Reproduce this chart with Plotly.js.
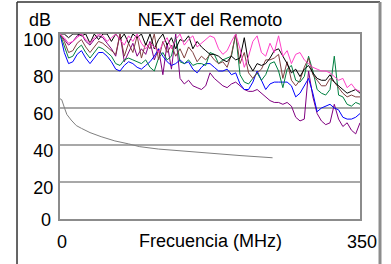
<!DOCTYPE html>
<html>
<head>
<meta charset="utf-8">
<script src="https://cdn.plot.ly/plotly-3.0.1.min.js"></script>
<style>html,body{margin:0;padding:0;background:#fff;}#chart{width:391px;height:264px;}</style>
</head>
<body>
<div id="chart"></div>
<script>
const chartTitle = 'NEXT del Remoto';
const yUnit = 'dB';
const xTitle = 'Frecuencia (MHz)';
const yTickVals = [20, 40, 60, 80, 100];
const xTickVals = [0, 350];
const xTickText = ['0', '350'];

const freq = [0,5,10,15,20,25,30,35,40,45,50,55,60,65,70,75,80,85,90,95,100,105,110,115,120,125,130,135,140,145,150,155,160,165,170,175,180,185,190,195,200,205,210,215,220,225,230,235,240,245,250,255,260,265,270,275,280,285,290,295,300,305,310,315,320,325,330,335,340,345,350];

const pairBlue = [100,90,84,85,89,91,87,84,87,90,90,88,85,81,80,83,85,84,82,81,83,85,88,92,88,85,83,84,86,84,85,81,79,82,84,84,82,80,80,81,78,79,73,70,70,74,80,75,70,73,74,74,74,74,72,66,68,72,76,68,58,60,61,62,60,59,55,54,54,55,57];
const pairGreen = [100,93,87,88,92,94,90,87,90,93,92,90,88,84,83,86,87,86,85,84,86,82,80,87,90,86,88,98,85,84,86,83,84,84,83,90,89,84,86,87,88,100,78,74,73,76,79,75,78,84,85,80,71,81,83,75,74,77,88,80,70,68,67,70,88,67,66,62,61,63,62];
const pairBrown = [100,96,90,91,95,97,93,90,93,96,95,93,91,89,100,88,95,90,99,87,95,92,100,86,96,90,94,88,92,87,93,90,85,88,86,89,86,84,85,82,89,100,84,90,79,76,79,81,86,86,87,89,76,85,75,72,75,82,87,78,75,72,72,76,74,71,68,66,67,66,66];
const pairBlack = [100,100,98,100,100,99,100,95,100,97,100,100,96,100,97,100,95,100,98,100,94,100,92,97,100,94,98,92,97,96,99,92,96,93,91,89,89,88,86,85,88,86,87,98,84,80,84,83,84,87,91,92,88,84,79,81,77,81,83,79,76,75,75,78,74,72,70,68,69,70,68];
const pairPink = [100,98,95,96,98,100,97,95,98,100,99,96,98,100,97,94,99,96,100,95,92,95,93,90,95,98,92,97,100,94,97,99,93,95,97,99,98,92,89,91,96,100,92,82,88,96,99,90,88,95,90,99,88,91,84,89,90,86,84,82,81,80,80,79,77,75,76,71,73,70,69];
const pairPurple = [100,97,94,96,99,100,96,94,97,99,98,95,92,88,100,85,90,95,88,92,89,96,86,92,78,95,81,100,76,73,75,72,71,70,72,79,76,74,72,71,73,74,72,70,69,69,70,68,66,64,63,63,62,63,61,55,53,54,80,66,57,53,51,52,62,54,50,52,48,46,52];

const limitFreq = [0,2,5.4,8,13,19,25,35,48,64,80,93,115,137,160,176,210,248];
const limitDb = [65,64.5,59.8,56.5,53.5,50.5,49,46.7,44.5,42.2,40.6,39.1,37.8,36.9,36,35.5,34.3,33.1];

const series = [
  {name: 'Par 1', y: pairPurple, color: '#800080'},
  {name: 'Par 2', y: pairBlue, color: '#0000ff'},
  {name: 'Par 3', y: pairGreen, color: '#008040'},
  {name: 'Par 4', y: pairBrown, color: '#804040'},
  {name: 'Par 5', y: pairBlack, color: '#000000'},
  {name: 'Par 6', y: pairPink, color: '#ff40c8'}
];

const traces = series.map(s => ({
  type: 'scatter', mode: 'lines', x: freq, y: s.y, name: s.name,
  line: {color: s.color, width: 1}, hoverinfo: 'skip'
}));
traces.unshift({
  type: 'scatter', mode: 'lines', x: limitFreq, y: limitDb, name: 'Límite',
  line: {color: '#808080', width: 1}, hoverinfo: 'skip'
});

const F = 'Liberation Sans, Arial, sans-serif';
const layout = {
  width: 391, height: 264,
  margin: {l: 60, r: 31, t: 34, b: 45},
  paper_bgcolor: '#ffffff', plot_bgcolor: '#ffffff',
  showlegend: false,
  font: {family: F, size: 18, color: '#000'},
  title: {text: chartTitle, xref: 'paper', x: 0.5, xanchor: 'center', yref: 'container', y: 0.924, yanchor: 'middle', font: {family: F, size: 18, color: '#000'}},
  xaxis: {
    range: [0, 350], tickvals: xTickVals, ticktext: xTickText, ticks: '',
    showgrid: false, zeroline: false, showline: true, mirror: true,
    linecolor: '#8c8c8c', linewidth: 2, ticklabelstandoff: 5, ticklabelshift: 2,
    tickfont: {family: F, size: 18, color: '#000'}, fixedrange: true
  },
  yaxis: {
    range: [0, 100], tickvals: yTickVals, ticks: '',
    showgrid: true, gridcolor: '#a8a8a8', gridwidth: 2, zeroline: false,
    showline: true, mirror: true, linecolor: '#8c8c8c', linewidth: 2,
    ticklabelshift: 6, ticklabelstandoff: 1,
    tickfont: {family: F, size: 18, color: '#000'}, fixedrange: true
  },
  annotations: [
    {text: yUnit, xref: 'paper', yref: 'paper', x: -0.0233, y: 1.0757, xanchor: 'right', yanchor: 'middle', showarrow: false, font: {family: F, size: 18, color: '#000'}},
    {text: '0', xref: 'paper', yref: 'y', x: -0.0233, y: 0, yshift: -1, xanchor: 'right', yanchor: 'middle', showarrow: false, font: {family: F, size: 18, color: '#000'}},
    {text: xTitle, xref: 'paper', yref: 'paper', x: 0.5, y: -0.119, xanchor: 'center', yanchor: 'middle', showarrow: false, font: {family: F, size: 18, color: '#000'}}
  ],
  shapes: [
    {type: 'line', xref: 'paper', yref: 'paper', x0: -0.1433, x1: -0.1433, y0: -0.4, y1: 1.173, line: {color: '#333333', width: 1.5}},
    {type: 'line', xref: 'paper', yref: 'paper', x0: -0.1433, x1: 1.0667, y0: 1.173, y1: 1.173, line: {color: '#333333', width: 1.5}},
    {type: 'line', xref: 'paper', yref: 'paper', x0: 1.0667, x1: 1.0667, y0: -0.4, y1: 1.173, line: {color: '#8c8c8c', width: 3}}
  ]
};

Plotly.newPlot('chart', traces, layout, {staticPlot: true, displayModeBar: false});
</script>
</body>
</html>
